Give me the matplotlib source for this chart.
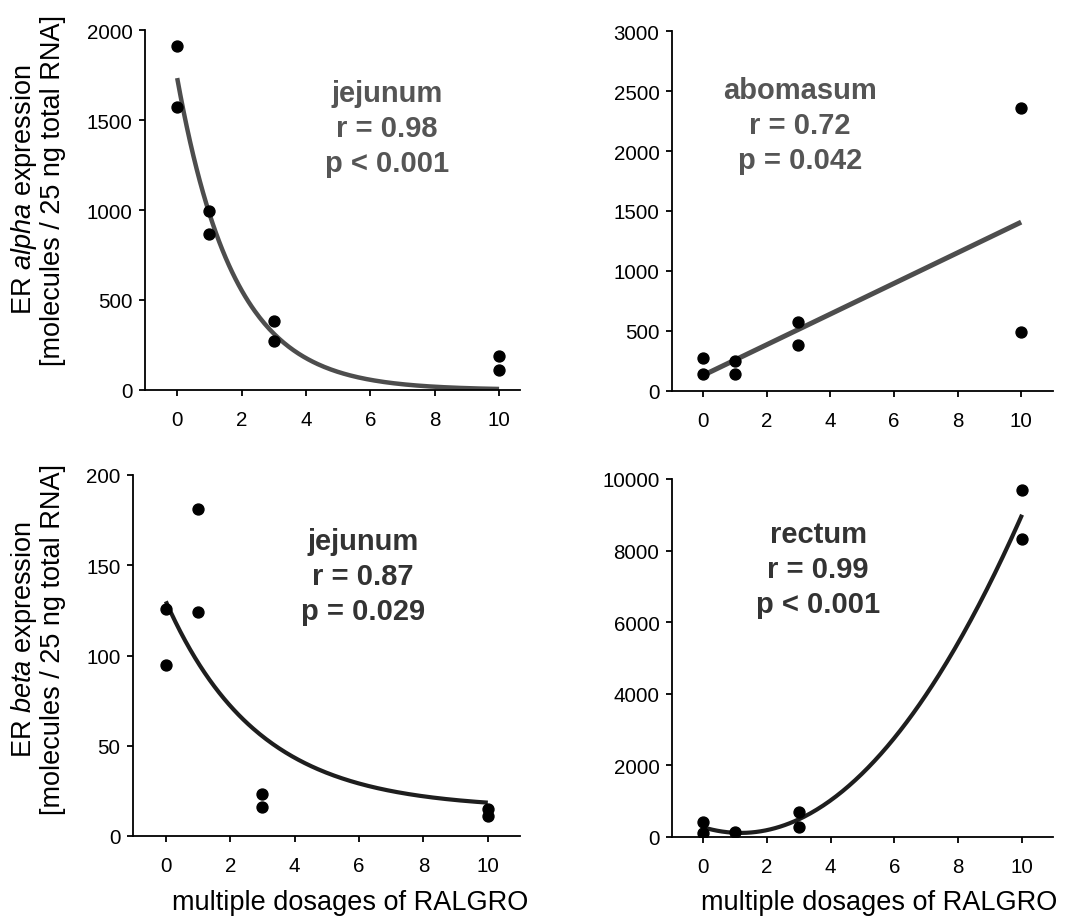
import numpy as np
import matplotlib
matplotlib.use("Agg")
import matplotlib.pyplot as plt

plt.rcParams['font.family'] = ['Liberation Sans', 'DejaVu Sans']
plt.rcParams['mathtext.fontset'] = 'custom'
plt.rcParams['mathtext.rm'] = 'Liberation Sans'
plt.rcParams['mathtext.it'] = 'Liberation Sans:italic'

# data
dose_a_jej = [0, 0, 1, 1, 3, 3, 10, 10]
alpha_jej = [1913, 1570, 993, 867, 385, 270, 187, 113]

dose_a_abo = [0, 0, 1, 1, 3, 3, 10, 10]
alpha_abo = [275, 142, 250, 142, 572, 386, 2358, 489]

dose_b_jej = [0, 0, 1, 1, 3, 3, 10, 10]
beta_jej = [126, 95, 181, 124, 23, 16, 15, 11]

dose_b_rec = [0, 0, 1, 3, 3, 10, 10]
beta_rec = [427, 112, 130, 690, 290, 9690, 8314]

# fitted curve parameters (estimated from the drawn curves)
jej_alpha_fit = (1733, 0.57)          # a * exp(-k x)
jej_beta_fit = (15, 115, 0.35)        # y0 + a * exp(-k x)

W, H = 1074, 920
fig = plt.figure(figsize=(W / 100, H / 100), dpi=100)


def make_axes(left, right, top, bottom):
    return fig.add_axes([left / W, 1 - bottom / H, (right - left) / W, (bottom - top) / H])


def style(ax, xlim, ylim, yticks):
    ax.set_xlim(*xlim)
    ax.set_ylim(*ylim)
    ax.set_xticks([0, 2, 4, 6, 8, 10])
    ax.set_yticks(yticks)
    ax.spines['top'].set_visible(False)
    ax.spines['right'].set_visible(False)
    for s in ('left', 'bottom'):
        ax.spines[s].set_linewidth(1.3)
    ax.tick_params(axis='both', labelsize=14.8, width=1.3, length=4.5, direction='out')
    ax.tick_params(axis='y', pad=4.5)
    ax.tick_params(axis='x', pad=10)
    ax.set_facecolor('none')


def stats(ax, x, y, lines, color):
    ax.text(x, y, lines, transform=fig.transFigure, ha='center', va='center',
            fontsize=21, fontweight='bold', color=color, linespacing=1.3)


xx = np.linspace(0, 10, 200)

# top left: ER alpha, jejunum
ax1 = make_axes(145, 520, 31, 391)
style(ax1, (-1.0, 10.65), (0, 2000), [0, 500, 1000, 1500, 2000])
a, k = jej_alpha_fit
ax1.plot(xx, a * np.exp(-k * xx), color='#4d4d4d', lw=3.2, solid_capstyle='butt', zorder=2)
ax1.scatter(dose_a_jej, alpha_jej, s=62, color='black', zorder=3)
stats(ax1, 387 / W, 1 - 129 / H, "jejunum\nr = 0.98\np < 0.001", '#555555')

# top right: ER alpha, abomasum
ax2 = make_axes(672, 1053, 32, 392)
style(ax2, (-0.97, 11.0), (0, 3000), [0, 500, 1000, 1500, 2000, 2500, 3000])
lin = np.polyfit(dose_a_abo, alpha_abo, 1)
ax2.plot(xx, np.polyval(lin, xx), color='#4d4d4d', lw=3.6, solid_capstyle='butt', zorder=2)
ax2.scatter(dose_a_abo, alpha_abo, s=62, color='black', zorder=3)
stats(ax2, 800 / W, 1 - 126 / H, "abomasum\nr = 0.72\np = 0.042", '#555555')

# bottom left: ER beta, jejunum
ax3 = make_axes(133, 520, 476, 837)
style(ax3, (-1.02, 11.0), (0, 200), [0, 50, 100, 150, 200])
y0, a, k = jej_beta_fit
ax3.plot(xx, y0 + a * np.exp(-k * xx), color='#1e1e1e', lw=3.0, solid_capstyle='butt', zorder=2)
ax3.scatter(dose_b_jej, beta_jej, s=62, color='black', zorder=3)
stats(ax3, 363 / W, 1 - 577 / H, "jejunum\nr = 0.87\np = 0.029", '#333333')

# bottom right: ER beta, rectum
ax4 = make_axes(672, 1053, 480, 838)
style(ax4, (-0.97, 10.97), (0, 10000), [0, 2000, 4000, 6000, 8000, 10000])
quad = np.polyfit(dose_b_rec, beta_rec, 2)
ax4.plot(xx, np.polyval(quad, xx), color='#1e1e1e', lw=3.0, solid_capstyle='butt', zorder=2)
ax4.scatter(dose_b_rec, beta_rec, s=62, color='black', zorder=3)
stats(ax4, 818 / W, 1 - 570 / H, "rectum\nr = 0.99\np < 0.001", '#333333')

# axis labels
fig.text(38 / W, 1 - 190 / H, "ER $\\mathit{alpha}$ expression\n[molecules / 25 ng total RNA]",
         rotation=90, ha='center', va='center', multialignment='center', fontsize=19.5,
         linespacing=1.05)
fig.text(38 / W, 1 - 640 / H, "ER $\\mathit{beta}$ expression\n[molecules / 25 ng total RNA]",
         rotation=90, ha='center', va='center', multialignment='center', fontsize=19.5,
         linespacing=1.05)
fig.text(172 / W, 1 - 903 / H, "multiple dosages of RALGRO", ha='left', va='center', fontsize=19.5)
fig.text(701 / W, 1 - 903 / H, "multiple dosages of RALGRO", ha='left', va='center', fontsize=19.5)

fig.savefig("out.png", dpi=100)
